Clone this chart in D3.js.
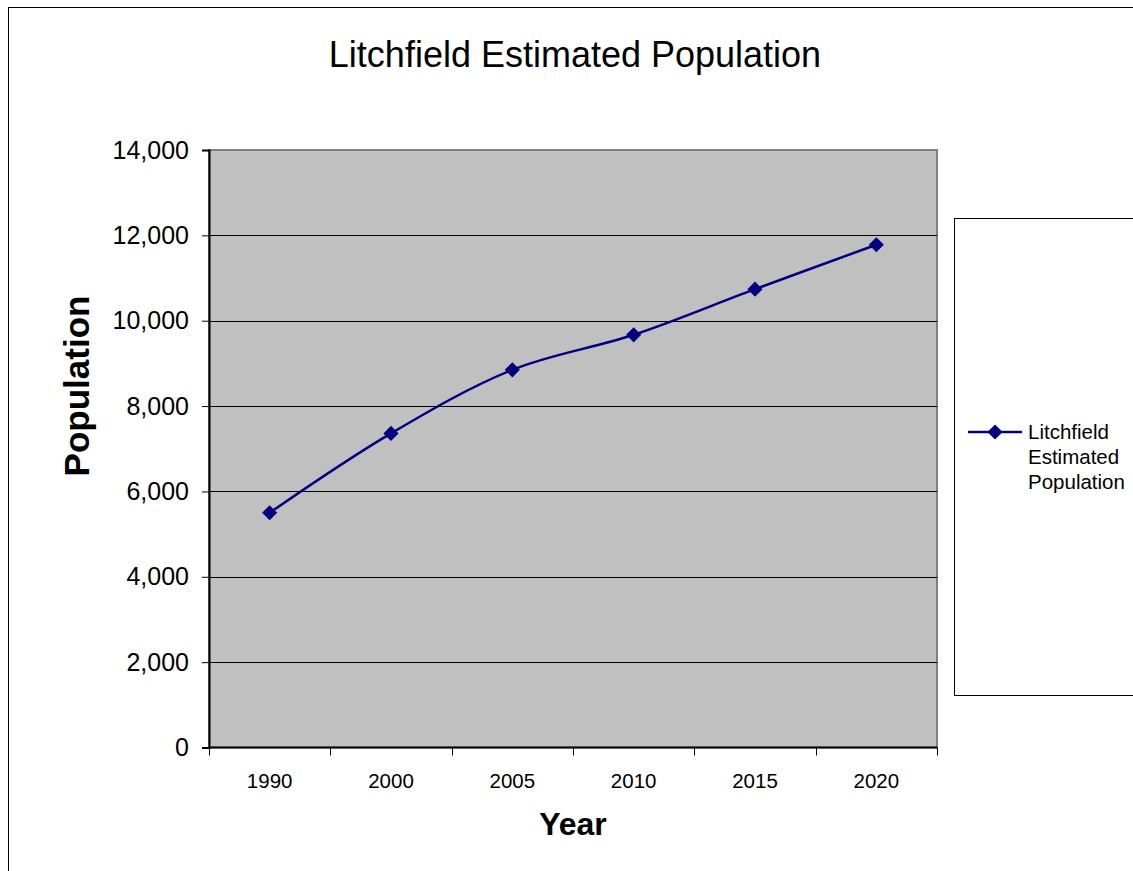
<!DOCTYPE html>
<html>
<head>
<meta charset="utf-8">
<script src="https://cdn.jsdelivr.net/npm/d3@7"></script>
<style>
  html, body { margin: 0; padding: 0; background: #ffffff; }
  svg { display: block; }
  text { font-family: "Liberation Sans", Arial, sans-serif; fill: #000; }
</style>
</head>
<body>
<script>
// Litchfield population estimates by year
const years = ["1990", "2000", "2005", "2010", "2015", "2020"];
const population = [5500, 7360, 8850, 9670, 10740, 11780];
const yTicks = [0, 2000, 4000, 6000, 8000, 10000, 12000, 14000];
const seriesName = "Litchfield Estimated Population";
const legendLines = ["Litchfield", "Estimated", "Population"];

const W = 1133, H = 871;
const plot = { left: 209, top: 150, right: 937, bottom: 747.5 };

const svg = d3.select("body").append("svg")
  .attr("width", W).attr("height", H);

// chart frame
svg.append("rect")
  .attr("x", 8.5).attr("y", 7.5)
  .attr("width", W + 10).attr("height", H + 10)
  .attr("fill", "#fff").attr("stroke", "#000").attr("stroke-width", 1);

const x = d3.scaleBand().domain(years)
  .range([plot.left, plot.right]).paddingInner(0).paddingOuter(0);
const y = d3.scaleLinear().domain([0, 14000])
  .range([plot.bottom, plot.top]);

// plot background
svg.append("rect")
  .attr("x", plot.left).attr("y", plot.top)
  .attr("width", plot.right - plot.left).attr("height", plot.bottom - plot.top)
  .attr("fill", "#c0c0c0").attr("stroke", "#808080").attr("stroke-width", 2);

// gridlines
svg.append("g").selectAll("line")
  .data(yTicks.filter(t => t > 0 && t < 14000))
  .join("line")
  .attr("x1", plot.left).attr("x2", plot.right)
  .attr("y1", d => Math.round(y(d)) + 0.5).attr("y2", d => Math.round(y(d)) + 0.5)
  .attr("stroke", "#000").attr("stroke-width", 1);

// y axis
const yAxis = svg.append("g")
  .attr("transform", `translate(${plot.left},0)`)
  .call(d3.axisLeft(y).tickValues(yTicks).tickFormat(d3.format(",")).tickSize(7).tickPadding(13));
yAxis.select(".domain").attr("stroke", "#000").attr("stroke-width", 2);
yAxis.selectAll(".tick line").attr("stroke", "#000").attr("stroke-width", 1);
yAxis.selectAll("text").attr("font-size", 25)
  .attr("font-family", "Liberation Sans, Arial, sans-serif").attr("fill", "#000");

// x axis with ticks at category boundaries
const xAxis = svg.append("g")
  .attr("transform", `translate(0,${plot.bottom})`);
xAxis.append("line")
  .attr("x1", plot.left).attr("x2", plot.right)
  .attr("stroke", "#000").attr("stroke-width", 2);
const bounds = years.map(d => x(d)).concat([plot.right]);
xAxis.selectAll(".xt").data(bounds).join("line")
  .attr("x1", d => Math.round(d) + 0.5).attr("x2", d => Math.round(d) + 0.5)
  .attr("y1", 0).attr("y2", 8)
  .attr("stroke", "#000").attr("stroke-width", 1);
xAxis.selectAll(".xl").data(years).join("text")
  .attr("x", d => x(d) + x.bandwidth() / 2)
  .attr("y", 40)
  .attr("text-anchor", "middle")
  .attr("font-size", 20.5)
  .text(d => d);

// smoothed series line
const cx = d => x(d) + x.bandwidth() / 2;
const line = d3.line()
  .x((d, i) => cx(years[i]))
  .y(d => y(d))
  .curve(d3.curveCatmullRom.alpha(0.5));
svg.append("path")
  .datum(population)
  .attr("d", line)
  .attr("fill", "none")
  .attr("stroke", "#000080")
  .attr("stroke-width", 2.5);

// diamond markers
const diamond = d3.symbol().type(d3.symbolSquare).size(115);
svg.append("g").selectAll("path")
  .data(population)
  .join("path")
  .attr("d", diamond)
  .attr("transform", (d, i) => `translate(${cx(years[i])},${y(d)}) rotate(45)`)
  .attr("fill", "#000080");

// title
svg.append("text")
  .attr("x", 575).attr("y", 67)
  .attr("text-anchor", "middle")
  .attr("font-size", 36)
  .text(seriesName);

// axis titles
svg.append("text")
  .attr("transform", "translate(89,386) rotate(-90)")
  .attr("text-anchor", "middle")
  .attr("font-size", 35)
  .attr("font-weight", "bold")
  .text("Population");
svg.append("text")
  .attr("x", 573).attr("y", 835)
  .attr("text-anchor", "middle")
  .attr("font-size", 32)
  .attr("font-weight", "bold")
  .text("Year");

// legend
const lg = svg.append("g");
lg.append("rect")
  .attr("x", 954.5).attr("y", 218.5)
  .attr("width", 200).attr("height", 477)
  .attr("fill", "#fff").attr("stroke", "#000").attr("stroke-width", 1);
lg.append("line")
  .attr("x1", 968).attr("x2", 1022)
  .attr("y1", 432).attr("y2", 432)
  .attr("stroke", "#000080").attr("stroke-width", 2.5);
lg.append("path")
  .attr("d", diamond)
  .attr("transform", "translate(995,432) rotate(45)")
  .attr("fill", "#000080");
lg.selectAll(".lt").data(legendLines).join("text")
  .attr("x", 1028)
  .attr("y", (d, i) => 439 + i * 25)
  .attr("font-size", 20.5)
  .text(d => d);
</script>
</body>
</html>
